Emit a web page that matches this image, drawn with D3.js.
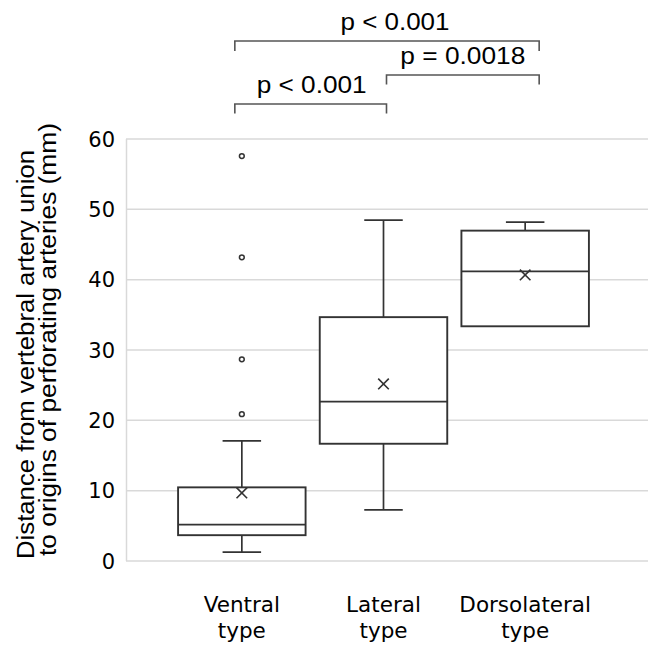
<!DOCTYPE html>
<html>
<head>
<meta charset="utf-8">
<script src="https://cdn.jsdelivr.net/npm/d3@7"></script>
<style>
  body { margin: 0; background: #fff; }
  svg { display: block; }
</style>
</head>
<body>
<svg id="chart" width="648" height="646"></svg>
<script>
// box plot values (mm)
var categories = ["Ventral type", "Lateral type", "Dorsolateral type"];
var whiskerLow = [1.2, 7.2, 33.3];
var q1 = [3.6, 16.6, 33.3];
var median = [5.1, 22.6, 41.1];
var q3 = [10.4, 34.6, 46.9];
var whiskerHigh = [17.0, 48.4, 48.1];
var means = [9.6, 25.1, 40.6];
var outliers = [[20.8, 28.6, 43.1, 57.5], [], []];
var yTicks = [0, 10, 20, 30, 40, 50, 60];

// significance brackets: from / to category index, label
var bracketFrom = [0, 1, 0];
var bracketTo = [1, 2, 2];
var bracketLabels = ["p < 0.001", "p = 0.0018", "p < 0.001"];

var yTitle = ["Distance from vertebral artery union", "to origins of perforating arteries (mm)"];

var svg = d3.select("#chart");

var yScale = d3.scaleLinear().domain([0, 60]).range([560.5, 138.5]);
var xScale = d3.scaleBand()
    .domain(categories)
    .range([171, 596])
    .paddingInner(0.1)
    .paddingOuter(0.05);

var boxes = categories.map(function(c, i) {
    return {cat: c, lo: whiskerLow[i], q1: q1[i], med: median[i], q3: q3[i], hi: whiskerHigh[i], mean: means[i], out: outliers[i]};
});

// grid + y axis
var yAxis = d3.axisLeft(yScale)
    .tickValues(yTicks)
    .tickSize(-(648 - 126))
    .tickSizeOuter(0)
    .tickPadding(11);

var gy = svg.append("g")
    .attr("transform", "translate(126,0)")
    .call(yAxis);
gy.select(".domain").attr("stroke", "#d9d9d9").attr("stroke-width", 1.5);
gy.selectAll(".tick line").attr("stroke", "#d9d9d9").attr("stroke-width", 1.5);
gy.selectAll(".tick text")
    .attr("font-family", "DejaVu Sans, Verdana, sans-serif")
    .attr("font-size", 21)
    .attr("fill", "#000")
    .attr("dy", "0.36em");

// x axis labels (two lines each)
var gx = svg.append("g")
    .attr("transform", "translate(0,560.5)")
    .call(d3.axisBottom(xScale).tickSize(0).tickPadding(0));
gx.select(".domain").remove();
gx.selectAll(".tick text").each(function(d) {
    var t = d3.select(this);
    var words = d.split(" ");
    t.text(null)
        .attr("y", 0)
        .attr("dy", null)
        .attr("font-family", "DejaVu Sans, Verdana, sans-serif")
        .attr("font-size", 21.5)
        .attr("fill", "#000");
    t.append("tspan").attr("x", 0).attr("y", 51.5).text(words[0]);
    t.append("tspan").attr("x", 0).attr("y", 77.5).text(words[1]);
});

var stroke = "#333";
var bw = xScale.bandwidth();
var capW = 38.5;

var g = svg.selectAll(".box")
    .data(boxes)
    .enter()
    .append("g")
    .attr("class", "box")
    .attr("transform", function(d) { return "translate(" + (xScale(d.cat) + bw / 2) + ",0)"; });

// whiskers
g.append("line")
    .attr("x1", 0).attr("x2", 0)
    .attr("y1", function(d) { return yScale(d.q3); })
    .attr("y2", function(d) { return yScale(d.hi); })
    .attr("stroke", stroke).attr("stroke-width", 1.7);
g.append("line")
    .attr("x1", -capW / 2).attr("x2", capW / 2)
    .attr("y1", function(d) { return yScale(d.hi); })
    .attr("y2", function(d) { return yScale(d.hi); })
    .attr("stroke", stroke).attr("stroke-width", 1.7);
g.filter(function(d) { return d.lo < d.q1; }).append("line")
    .attr("x1", 0).attr("x2", 0)
    .attr("y1", function(d) { return yScale(d.q1); })
    .attr("y2", function(d) { return yScale(d.lo); })
    .attr("stroke", stroke).attr("stroke-width", 1.7);
g.filter(function(d) { return d.lo < d.q1; }).append("line")
    .attr("x1", -capW / 2).attr("x2", capW / 2)
    .attr("y1", function(d) { return yScale(d.lo); })
    .attr("y2", function(d) { return yScale(d.lo); })
    .attr("stroke", stroke).attr("stroke-width", 1.7);

// box
g.append("rect")
    .attr("x", -bw / 2)
    .attr("width", bw)
    .attr("y", function(d) { return yScale(d.q3); })
    .attr("height", function(d) { return yScale(d.q1) - yScale(d.q3); })
    .attr("fill", "#fff")
    .attr("stroke", stroke)
    .attr("stroke-width", 1.9);

// median
g.append("line")
    .attr("x1", -bw / 2).attr("x2", bw / 2)
    .attr("y1", function(d) { return yScale(d.med); })
    .attr("y2", function(d) { return yScale(d.med); })
    .attr("stroke", stroke).attr("stroke-width", 1.7);

// mean marker
g.append("path")
    .attr("d", d3.symbol().type(d3.symbolX).size(75))
    .attr("transform", function(d) { return "translate(0," + yScale(d.mean) + ")"; })
    .attr("fill", "none")
    .attr("stroke", stroke)
    .attr("stroke-width", 1.6);

// outliers
g.selectAll(".out")
    .data(function(d) { return d.out; })
    .enter()
    .append("circle")
    .attr("class", "out")
    .attr("cx", 0)
    .attr("cy", function(d) { return yScale(d); })
    .attr("r", 2.4)
    .attr("fill", "#fff")
    .attr("stroke", stroke)
    .attr("stroke-width", 1.5);

// brackets
var bracketEndShift = [-7, 3, 14];   // small offsets used in the figure
var bracketY = [104, 75, 41];
var bracketDrop = [9.5, 9.5, 10];
var labelLen = [110, 125, 109];
var labelDx = [1, 0, 8];

function bx(i) { return xScale(categories[i]) + bw / 2 + bracketEndShift[i]; }

var br = svg.selectAll(".bracket")
    .data(bracketLabels)
    .enter()
    .append("g")
    .attr("class", "bracket");

br.append("path")
    .attr("d", function(d, i) {
        var x1 = bx(bracketFrom[i]), x2 = bx(bracketTo[i]), y = bracketY[i];
        return "M" + x1 + "," + (y + bracketDrop[i]) + "V" + y + "H" + x2 + "V" + (y + bracketDrop[i]);
    })
    .attr("fill", "none")
    .attr("stroke", "#555")
    .attr("stroke-width", 1.6);

br.append("text")
    .attr("x", function(d, i) { return (bx(bracketFrom[i]) + bx(bracketTo[i])) / 2 + labelDx[i]; })
    .attr("y", function(d, i) { return bracketY[i] - 11; })
    .attr("text-anchor", "middle")
    .attr("font-family", "Liberation Sans, Arial, sans-serif")
    .attr("font-size", 24)
    .attr("textLength", function(d, i) { return labelLen[i]; })
    .attr("lengthAdjust", "spacingAndGlyphs")
    .attr("fill", "#000")
    .text(function(d) { return d; });

// y title
var yt = svg.append("g");
var titleBase = [33.5, 55.5];
var titleStart = [559, 556];
var titleLen = [409, 433];
yt.selectAll("text")
    .data(yTitle)
    .enter()
    .append("text")
    .attr("transform", function(d, i) { return "translate(" + titleBase[i] + "," + titleStart[i] + ") rotate(-90)"; })
    .attr("text-anchor", "start")
    .attr("font-family", "Liberation Sans, Arial, sans-serif")
    .attr("font-size", 23.5)
    .attr("textLength", function(d, i) { return titleLen[i]; })
    .attr("lengthAdjust", "spacingAndGlyphs")
    .attr("fill", "#000")
    .text(function(d) { return d; });
</script>
</body>
</html>
